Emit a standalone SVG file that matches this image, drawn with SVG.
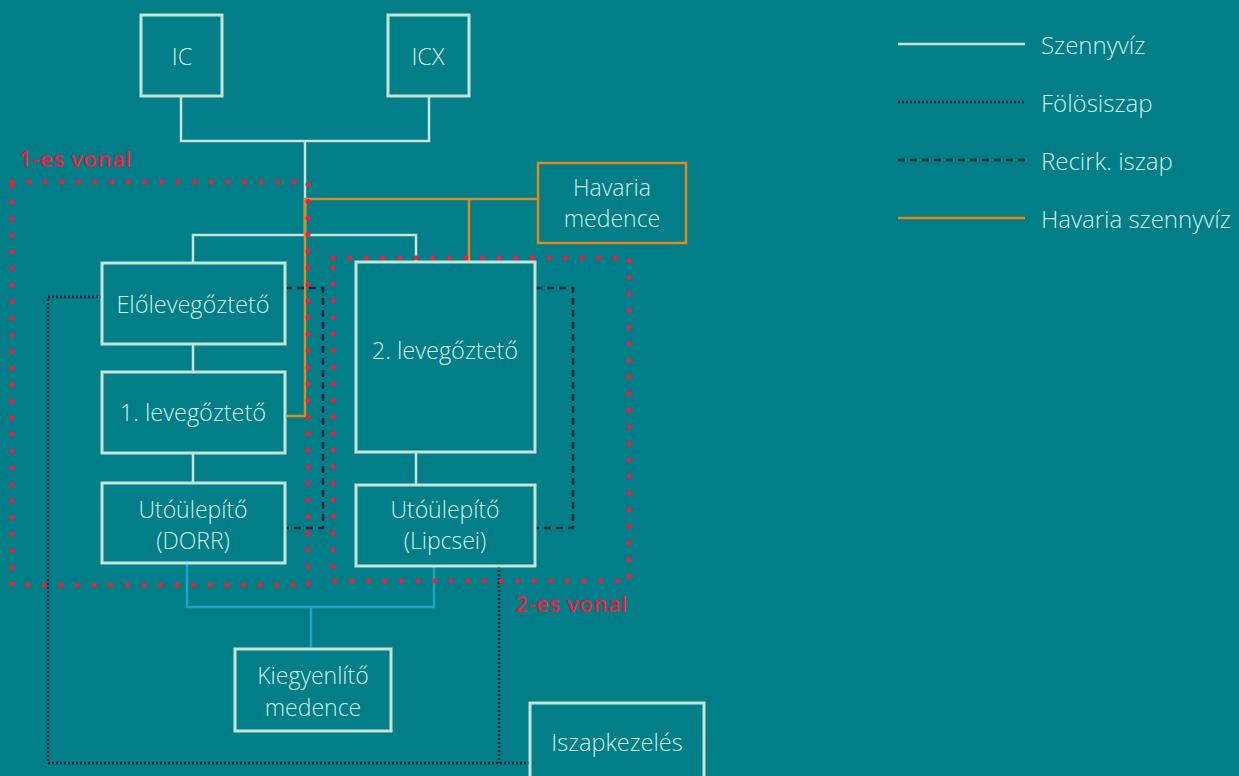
<svg xmlns="http://www.w3.org/2000/svg" width="1239" height="776" viewBox="0 0 1239 776">
<style>
.bg{fill:#017E87}
.box{fill:none;stroke:#C4E4D8;stroke-width:3}
.hbox{fill:none;stroke:#E0891F;stroke-width:2.5}
.t{font-family:"Open Sans",Lato,sans-serif;font-weight:300;font-size:23.5px;fill:#D4EFE7;text-anchor:middle;dominant-baseline:central}
.t2{font-family:"Open Sans",Lato,sans-serif;font-weight:300;font-size:23px;fill:#D4EFE7;text-anchor:middle;dominant-baseline:central}
.lt{font-family:"Open Sans",Lato,sans-serif;font-weight:300;font-size:24px;fill:#D4EFE7;dominant-baseline:central}
.red{font-family:"Open Sans",Roboto,sans-serif;font-weight:600;font-size:22px;letter-spacing:0.6px;fill:#E8213F}
.w{fill:none;stroke:#C4E4D8;stroke-width:2.5}
.o{fill:none;stroke:#E0891F;stroke-width:2.5}
.c{fill:none;stroke:#1CA4C6;stroke-width:2.5}
.f{fill:none;stroke:#14243D;stroke-width:2.5;stroke-dasharray:2 2}
.r{fill:none;stroke:#14243D;stroke-width:2.5;stroke-dasharray:7 5}
.rd{fill:none;stroke:#E8213F;stroke-width:5;stroke-linecap:round;stroke-dasharray:0 16.6}
</style>
<rect class="bg" x="0" y="0" width="1239" height="776"/>
<g id="connectors">
<path class="w" d="M181 96V141H429V96M305 141V235M193 263V235H416V262"/>
<path class="w" d="M193 344V372M193 453V483M416 452V485"/>
<path class="o" d="M538 199H305V416H287M469 199V262"/>
<path class="c" d="M187 563V607H434V566M311 607V649"/>
<path class="f" d="M102 297H48V763H530M499 566V763"/>
<path class="r" d="M285 288H323V528H285M535 288H573V528H535"/>
</g>
<g id="line1">
<rect class="rd" x="12" y="182" width="296" height="403"/>
<text class="red" x="19" y="167">1-es vonal</text>
</g>
<g id="line2">
<rect class="rd" x="333" y="258" width="296" height="323"/>
<text class="red" x="515" y="612">2-es vonal</text>
</g>
<g id="ic"><rect class="box" x="141" y="15" width="81" height="81"/><text class="t" x="182" y="56">IC</text></g>
<g id="icx"><rect class="box" x="388" y="15" width="81" height="81"/><text class="t" x="428" y="56">ICX</text></g>
<g id="havaria"><rect class="hbox" x="538" y="163" width="148" height="80"/><text class="t2" x="612" y="186.5">Havaria</text><text class="t2" x="612" y="218">medence</text></g>
<g id="eloleveg"><rect class="box" x="102" y="263" width="183" height="81"/><text class="t" x="193" y="304">Előlevegőztető</text></g>
<g id="leveg1"><rect class="box" x="102" y="372" width="183" height="81"/><text class="t" x="193" y="412">1. levegőztető</text></g>
<g id="dorr"><rect class="box" x="102" y="483" width="183" height="80"/><text class="t2" x="193" y="508.5">Utóülepítő</text><text class="t2" x="193" y="540">(DORR)</text></g>
<g id="leveg2"><rect class="box" x="356" y="262" width="179" height="190"/><text class="t" x="445" y="350">2. levegőztető</text></g>
<g id="lipcsei"><rect class="box" x="356" y="485" width="179" height="81"/><text class="t2" x="445" y="508.5">Utóülepítő</text><text class="t2" x="445" y="540">(Lipcsei)</text></g>
<g id="kiegy"><rect class="box" x="235" y="649" width="156" height="82"/><text class="t2" x="313" y="675">Kiegyenlítő</text><text class="t2" x="313" y="706.5">medence</text></g>
<g id="iszap"><rect class="box" x="530" y="703" width="174" height="80"/><text class="t" x="617" y="742">Iszapkezelés</text></g>
<g id="legend">
<line class="w" x1="898" y1="44" x2="1025" y2="44"/><text class="lt" x="1041" y="44">Szennyvíz</text>
<line class="f" x1="898" y1="102" x2="1025" y2="102"/><text class="lt" x="1041" y="102">Fölösiszap</text>
<line class="r" x1="898" y1="160" x2="1025" y2="160"/><text class="lt" x="1041" y="160">Recirk. iszap</text>
<line class="o" x1="898" y1="218" x2="1025" y2="218"/><text class="lt" x="1041" y="218">Havaria szennyvíz</text>
</g>
</svg>
